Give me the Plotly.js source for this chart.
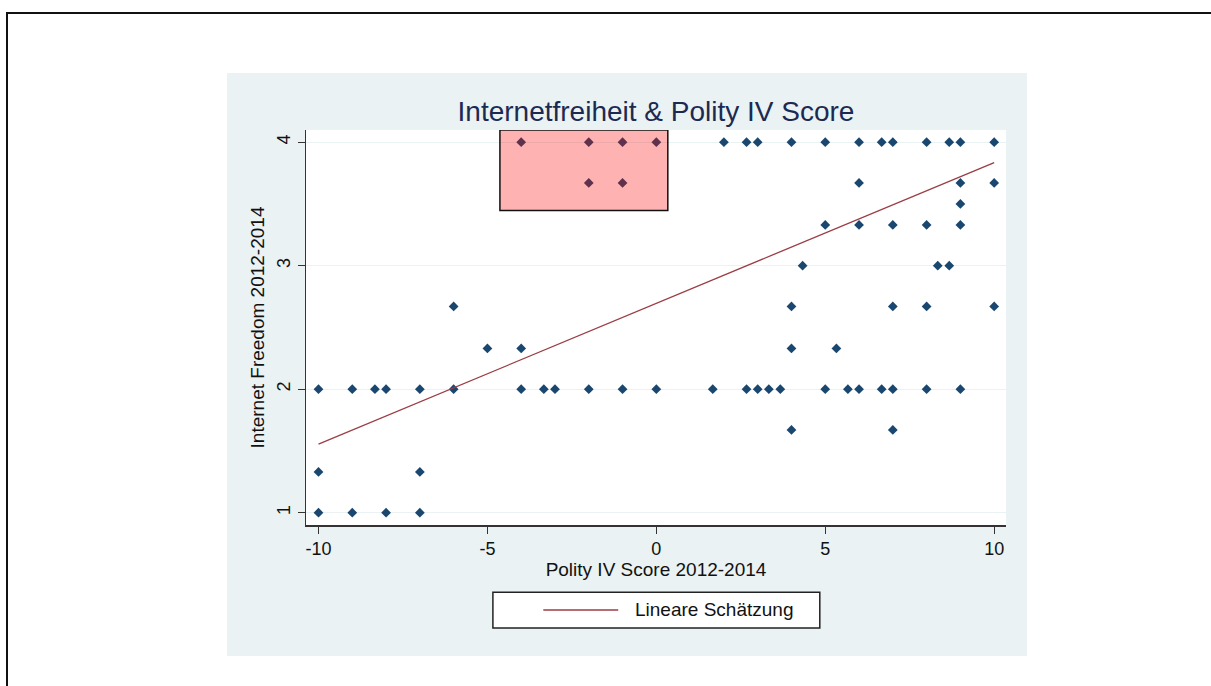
<!DOCTYPE html>
<html>
<head>
<meta charset="utf-8">
<script src="https://cdn.plot.ly/plotly-3.0.1.min.js"></script>
<style>
  html, body { margin: 0; padding: 0; background: #ffffff; width: 1211px; height: 686px; overflow: hidden; }
  #frame { position: absolute; left: 6px; top: 12px; width: 1400px; height: 900px; border-left: 2px solid #111; border-top: 2px solid #111; }
  #chart { position: absolute; left: 227px; top: 73px; width: 800px; height: 583px; }
</style>
</head>
<body>
<div id="frame"></div>
<div id="chart"></div>
<script>
// Polity IV Score 2012-2014 (x) vs Internet Freedom 2012-2014 (y)
const polityScore = [
  -4, -2, -1, 0, 2, 2.67, 3, 4, 5, 6, 6.67, 7, 8, 8.67, 9, 10,
  -2, -1, 6, 9, 10,
  9,
  5, 6, 7, 8, 9,
  4.33, 8.33, 8.67,
  -6, 4, 7, 8, 10,
  -5, -4, 4, 5.33,
  -10, -9, -8.33, -8, -7, -6, -4, -3.33, -3, -2, -1, 0, 1.67, 2.67, 3, 3.33, 3.67, 5, 5.67, 6, 6.67, 7, 8, 9,
  4, 7,
  -10, -7,
  -10, -9, -8, -7
];
const internetFreedom = [
  4, 4, 4, 4, 4, 4, 4, 4, 4, 4, 4, 4, 4, 4, 4, 4,
  3.67, 3.67, 3.67, 3.67, 3.67,
  3.5,
  3.33, 3.33, 3.33, 3.33, 3.33,
  3, 3, 3,
  2.67, 2.67, 2.67, 2.67, 2.67,
  2.33, 2.33, 2.33, 2.33,
  2, 2, 2, 2, 2, 2, 2, 2, 2, 2, 2, 2, 2, 2, 2, 2, 2, 2, 2, 2, 2, 2, 2, 2,
  1.67, 1.67,
  1.33, 1.33,
  1, 1, 1, 1
];
// Linear fit endpoints
const fitX = [-10, 10];
const fitY = [1.555, 3.835];

const xTicks = [-10, -5, 0, 5, 10];
const yTicks = [1, 2, 3, 4];

const titleText = "Internetfreiheit &amp; Polity IV Score";
const xTitle = "Polity IV Score 2012-2014";
const yTitle = "Internet Freedom 2012-2014";
const legendLabel = "Lineare Schätzung";

const FONT = "Liberation Sans, Arial, sans-serif";

const traces = [
  {
    type: "scatter", mode: "markers",
    x: polityScore, y: internetFreedom,
    marker: { symbol: "diamond", size: 7.5, color: "#1a476f", line: { width: 0 } },
    showlegend: false, hoverinfo: "x+y"
  },
  {
    type: "scatter", mode: "lines",
    x: fitX, y: fitY, name: legendLabel,
    line: { color: "#9a3d44", width: 1.3 },
    showlegend: false
  }
];

const layout = {
  width: 800, height: 583,
  margin: { l: 79, r: 21, t: 57, b: 131, pad: 0 },
  paper_bgcolor: "#eaf2f3",
  plot_bgcolor: "#ffffff",
  font: { family: FONT, color: "#111111", size: 18 },
  showlegend: false,
  title: {
    text: titleText,
    font: { family: FONT, size: 28, color: "#1c2a52" },
    x: 0.5, xref: "paper", xanchor: "center",
    y: 0.935, yref: "container", yanchor: "middle"
  },
  xaxis: {
    range: [-10.37, 10.35],
    tickvals: xTicks, ticktext: xTicks.map(String),
    ticks: "outside", ticklen: 7, tickwidth: 1.3, tickcolor: "#333",
    showline: true, linecolor: "#333", linewidth: 1.5,
    showgrid: false, zeroline: false,
    tickfont: { size: 18, color: "#111" },
    title: { text: xTitle, font: { size: 19, color: "#111" }, standoff: 4 }
  },
  yaxis: {
    range: [0.90, 4.099],
    tickvals: yTicks, ticktext: yTicks.map(String),
    tickangle: -90,
    ticks: "outside", ticklen: 7, tickwidth: 1.3, tickcolor: "#333",
    showline: true, linecolor: "#333", linewidth: 1.5,
    showgrid: true, gridcolor: "#eaf2f3", gridwidth: 1.2,
    zeroline: false,
    tickfont: { size: 18, color: "#111" },
    title: { text: yTitle, font: { size: 19, color: "#111" }, standoff: 4 }
  },
  shapes: [
    // highlighted region
    { type: "rect", xref: "x", yref: "y", x0: -4.63, x1: 0.34, y0: 3.447, y1: 4.099,
      fillcolor: "rgba(255,0,0,0.3)", line: { color: "#111", width: 1.5 }, layer: "above" },
    // legend box
    { type: "rect", xref: "paper", yref: "paper", x0: 0.267, x1: 0.734, y0: -0.261, y1: -0.170,
      fillcolor: "#ffffff", line: { color: "#222", width: 1.5 }, layer: "above" },
    // legend line sample
    { type: "line", xref: "paper", yref: "paper", x0: 0.339, x1: 0.446, y0: -0.215, y1: -0.215,
      line: { color: "#9a3d44", width: 1.5 }, layer: "above" }
  ],
  annotations: [
    { xref: "paper", yref: "paper", x: 0.467, y: -0.215, xanchor: "left", yanchor: "middle",
      text: legendLabel, showarrow: false, font: { size: 19, color: "#111" } }
  ]
};

Plotly.newPlot("chart", traces, layout, { staticPlot: true, displayModeBar: false });
</script>
</body>
</html>
